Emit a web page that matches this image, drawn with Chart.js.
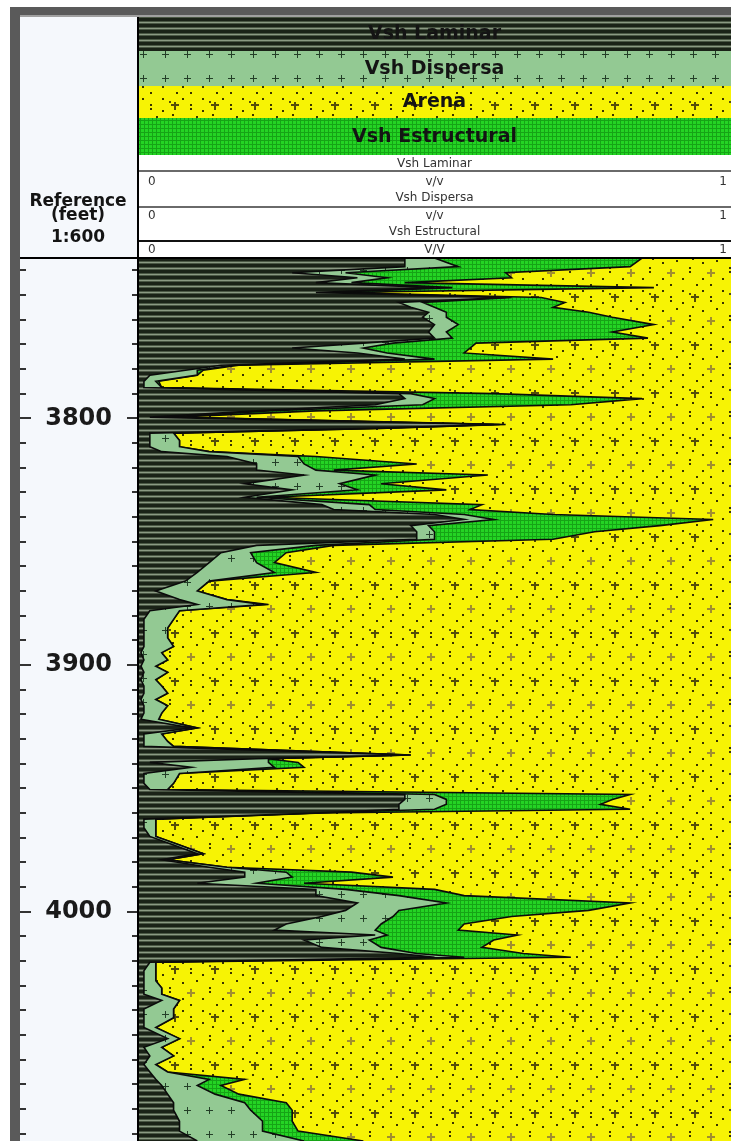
<!DOCTYPE html>
<html>
<head>
<meta charset="utf-8">
<script src="https://cdn.jsdelivr.net/npm/chart.js@4.4.1/dist/chart.umd.min.js"></script>
<style>
  html, body { margin: 0; padding: 0; background: #fff; overflow: hidden; }
  canvas { display: block; }
</style>
</head>
<body>
<canvas id="log" width="731" height="1141"></canvas>
<script>
const depth = [
  3735, 3738.5, 3741, 3743, 3745, 3747, 3749, 3751, 3753, 3755, 3757, 3759, 3762, 3765, 3767.5,
  3769.5, 3771.5, 3773.5, 3776, 3778.5, 3780.5, 3782.5, 3785, 3787.5, 3790, 3792, 3794.5, 3797,
  3799.5, 3802.5, 3804, 3806, 3809, 3811.5, 3813.5, 3815.5, 3818.5, 3821, 3823, 3826.5, 3829,
  3832, 3835, 3837, 3839, 3841, 3843.5, 3846, 3849, 3851.5, 3854.5, 3858.5, 3862.5, 3866, 3870,
  3873.5, 3875.5, 3878, 3881.5, 3885, 3889, 3892.5, 3895, 3898, 3900.5, 3903, 3906, 3908.5,
  3911.5, 3914, 3916.5, 3919.5, 3922, 3925.5, 3928, 3931, 3933, 3936.5, 3938, 3939.5, 3941.5,
  3944, 3948, 3950.5, 3952.5, 3954.5, 3956.5, 3958.5, 3960, 3962.5, 3966, 3969.5, 3973, 3976.5,
  3979, 3982, 3984, 3986, 3988.5, 3991, 3993.5, 3996.5, 3999.5, 4002, 4005, 4007.5, 4009.5,
  4011.5, 4014.5, 4017, 4018.5, 4020.5, 4024, 4028, 4031, 4033.5, 4036, 4039.5, 4043, 4047,
  4051.5, 4055, 4058.5, 4062, 4065, 4068, 4070.5, 4074, 4077.5, 4080.5, 4085, 4089, 4093
];
const vshLaminar = [
  .45, .45, .26, .37, .30, .50, .30, .62, .44, .46, .49, .48, .50, .49, .50,
  .38, .26, .37, .45, .14, .08, .02, .01, .01, .44, .45, .40, .20,
  .02, .60, .40, .02, .02, .02, .04, .15, .20, .20, .28, .18, .26,
  .18, .31, .33, .50, .55, .46, .47, .47, .20, .14, .12, .10, .08, .03,
  .07, .10, .02, .01, .01, .01, .01, .005, .01, .005, .01, .005, .01,
  .01, .005, .01, .01, .005, .09, .01, .01, .01, .45, .20, .02, .09,
  .01, .01, .02, .45, .45, .44, .44, .30, .01, .01, .02, .06, .10,
  .04, .12, .18, .18, .10, .30, .30, .37, .35, .31, .25, .23, .40,
  .28, .31, .44, .50, .02, .01, .01, .01, .01, .04, .01, .01, .01,
  .05, .01, .02, .01, .02, .03, .04, .05, .06, .06, .07, .07, .10
];
const vshDispersa = [
  .05, .09, .09, .05, .06, .03, .02, .01, .04, .04, .03, .04, .04, .03, .03,
  .05, .12, .05, .05, .02, .02, .08, .02, .03, .02, .05, .08, .02,
  .03, .01, .02, .04, .05, .05, .08, .12, .08, .10, .12, .16, .11,
  .02, .08, .07, .05, .05, .03, .03, .03, .10, .05, .08, .13, .04, .07,
  .08, .11, .05, .05, .04, .04, .05, .035, .04, .025, .04, .025, .03,
  .04, .025, .04, .03, .03, .01, .03, .04, .05, .01, .02, .20, .14,
  .06, .05, .03, .05, .07, .08, .06, 0, .02, .02, .01, .01, .01,
  .01, .03, .07, .08, .10, .05, .14, .15, .09, .12, .16, .17, .02,
  .11, .10, .03, .05, .01, .02, .02, .03, .03, .03, .05, .05, .02,
  .02, .03, .04, .02, .03, .09, .06, .08, .12, .13, .14, .14, .18
];
const vshEstructural = [
  .35, .29, .27, .21, .09, .34, .02, .05, .24, .20, .24, .28, .33, .28, .33,
  .14, .18, .13, .20, .01, .01, 0, .005, 0, .14, .35, .25, .08,
  .01, .01, 0, 0, 0, 0, 0, .03, .19, .03, .19, .07, .15,
  .02, .19, .16, .15, .37, .39, .27, .20, .03, .06, .03, .07, 0, 0,
  0, .01, 0, 0, 0, 0, 0, 0, 0, 0, 0, 0, 0,
  0, 0, 0, 0, 0, 0, 0, 0, 0, 0, 0, .05, .05,
  0, 0, 0, .33, .28, .26, .33, .01, 0, 0, 0, 0, 0,
  0, 0, .11, .17, .08, .15, .11, .31, .32, .20, .14, .14, .22,
  .21, .17, .18, .18, 0, 0, 0, 0, 0, 0, 0, 0, 0,
  0, 0, 0, 0, 0, .06, .04, .04, .07, .07, .05, .06, .10
];
const depthTop = 3735;
const depthBase = 4093;
const depthLabels = [3800, 3900, 4000];

const canvas = document.getElementById('log');
const ctx = canvas.getContext('2d');

function tile(w, h, draw) {
  const c = document.createElement('canvas');
  c.width = w; c.height = h;
  draw(c.getContext('2d'));
  return ctx.createPattern(c, 'repeat');
}

const patLam = tile(8, 6, g => {
  g.fillStyle = '#1a2217'; g.fillRect(0, 0, 8, 6);
  g.fillStyle = '#4a5744'; g.fillRect(0, 3, 8, 1); g.fillRect(0, 5, 8, 1);
  g.fillStyle = '#8b9983'; g.fillRect(0, 4, 8, 1);
});
const patDisp = tile(22, 24, g => {
  g.fillStyle = '#93c993'; g.fillRect(0, 0, 22, 24);
  g.fillStyle = '#243f28'; g.fillRect(8, 6, 7, 1); g.fillRect(11, 3, 1, 7);
});
const patEst = tile(4, 4, g => {
  g.fillStyle = '#24d424'; g.fillRect(0, 0, 4, 4);
  g.fillStyle = '#16a416'; g.fillRect(0, 0, 4, 1); g.fillRect(0, 0, 1, 4);
});
const patArena = tile(40, 48, g => {
  g.fillStyle = '#f7f304'; g.fillRect(0, 0, 40, 48);
  g.fillStyle = '#3a3300';
  [[2,2],[22,2],[30,8],[30,12],[2,14],[12,18],[22,22],[36,20],[9,27],[9,31],[2,38],[22,38],[30,44],[16,44]]
    .forEach(([x, y]) => g.fillRect(x, y, 2, 2));
  g.fillStyle = '#534c0a'; g.fillRect(11, 8, 8, 2); g.fillRect(14, 6, 2, 8); g.fillRect(9, 5, 2, 2);
  g.fillStyle = '#a08e30'; g.fillRect(27, 32, 8, 2); g.fillRect(30, 29, 2, 8);
});

const edgeLam = depth.map((d, i) => ({ y: d, x: vshLaminar[i] }));
const edgeDisp = depth.map((d, i) => ({ y: d, x: vshLaminar[i] + vshDispersa[i] }));
const edgeEst = depth.map((d, i) => ({ y: d, x: vshLaminar[i] + vshDispersa[i] + vshEstructural[i] }));

const TX0 = 138, TX1 = 731;
const bold = s => 'bold ' + s + 'px "DejaVu Sans"';

const logFrame = {
  id: 'logFrame',
  beforeDraw(chart) {
    const c = chart.ctx;
    c.save();
    c.fillStyle = '#fff'; c.fillRect(0, 0, 731, 1141);
    c.fillStyle = '#5a5a5a'; c.fillRect(10, 7, 721, 9); c.fillRect(10, 7, 10, 1134);
    c.fillStyle = '#a0a0a0'; c.fillRect(20, 15, 711, 2);
    c.fillStyle = '#f5f8fc'; c.fillRect(20, 17, 118, 1124);
    c.fillStyle = '#fff'; c.fillRect(TX0, 155, TX1 - TX0, 103);

    const bands = [
      ['Vsh Laminar', patLam, 17, 51, 34],
      ['Vsh Dispersa', patDisp, 51, 86, 69],
      ['Arena', patArena, 86, 118, 102],
      ['Vsh Estructural', patEst, 118, 155, 137]
    ];
    const mid = (TX0 + TX1) / 2;
    c.textAlign = 'center'; c.textBaseline = 'middle';
    bands.forEach(([name, pat, y0, y1, ty]) => {
      c.fillStyle = pat; c.fillRect(TX0, y0, TX1 - TX0, y1 - y0);
      c.fillStyle = '#141414'; c.font = bold(19);
      c.fillText(name, mid, ty);
    });

    // scale rows
    const rows = [['Vsh Laminar', 164, 171, 182, 'v/v', '#6a6a6a'],
                  ['Vsh Dispersa', 198, 207, 216, 'v/v', '#6a6a6a'],
                  ['Vsh Estructural', 232, 241, 250, 'V/V', '#111']];
    rows.forEach(([name, ny, ly, sy, unit, lc]) => {
      c.fillStyle = '#333'; c.font = '12px "DejaVu Sans"';
      c.textAlign = 'center';
      c.fillText(name, mid, ny);
      c.fillStyle = lc; c.fillRect(TX0, ly - 1, TX1 - TX0, 2);
      c.fillStyle = '#333';
      c.fillText(unit, mid, sy);
      c.textAlign = 'left'; c.fillText('0', 148, sy);
      c.textAlign = 'right'; c.fillText('1', 727, sy);
    });

    c.fillStyle = '#141414'; c.textAlign = 'center';
    c.font = bold(17);
    c.fillText('Reference', 78, 202);
    c.fillText('(feet)', 78, 216);
    c.fillText('1:600', 78, 238);
    c.restore();
  },
  afterDraw(chart) {
    const c = chart.ctx, ys = chart.scales.y;
    c.save();
    c.fillStyle = '#333';
    ys.ticks.forEach(t => {
      const py = Math.round(ys.getPixelForValue(t.value));
      const len = depthLabels.includes(t.value) ? 11 : 6;
      c.fillRect(20, py - 1, len, 2);
      c.fillRect(TX0 - len, py - 1, len, 2);
    });
    c.fillStyle = '#000';
    c.fillRect(20, 257, 711, 2);
    c.fillRect(137, 17, 2, 1124);
    c.restore();
  }
};

const lineStyle = { borderColor: '#0b0b0b', borderWidth: 1.6, pointRadius: 0, tension: 0 };

new Chart(canvas, {
  type: 'line',
  data: {
    datasets: [
      { label: 'Vsh Laminar', data: edgeLam, backgroundColor: patLam, fill: { value: 0 }, ...lineStyle },
      { label: 'Vsh Dispersa', data: edgeDisp, backgroundColor: patDisp, fill: { value: 0 }, ...lineStyle },
      { label: 'Vsh Estructural', data: edgeEst, backgroundColor: patEst, fill: { value: 0 }, ...lineStyle },
      { label: 'Arena', data: edgeEst, backgroundColor: patArena, fill: { value: 1 }, borderWidth: 0, pointRadius: 0, tension: 0 }
    ]
  },
  options: {
    indexAxis: 'y',
    responsive: false,
    animation: false,
    devicePixelRatio: 1,
    layout: { padding: { left: 20, top: 258, right: 0, bottom: 0 } },
    plugins: { legend: { display: false }, tooltip: { enabled: false } },
    scales: {
      x: { type: 'linear', min: 0, max: 1, display: false },
      y: {
        type: 'linear', reverse: true, min: depthTop, max: depthBase, position: 'left',
        afterFit(s) { s.width = 118; s.paddingTop = 0; s.paddingBottom = 0; },
        ticks: {
          stepSize: 10, includeBounds: false, autoSkip: false, padding: 26,
          color: '#1a1a1a', font: { family: 'DejaVu Sans', size: 24, weight: 'bold' },
          callback: v => depthLabels.includes(v) ? String(v) : ''
        },
        grid: { drawOnChartArea: false, drawTicks: false },
        border: { display: false }
      }
    }
  },
  plugins: [logFrame]
});
</script>
</body>
</html>
